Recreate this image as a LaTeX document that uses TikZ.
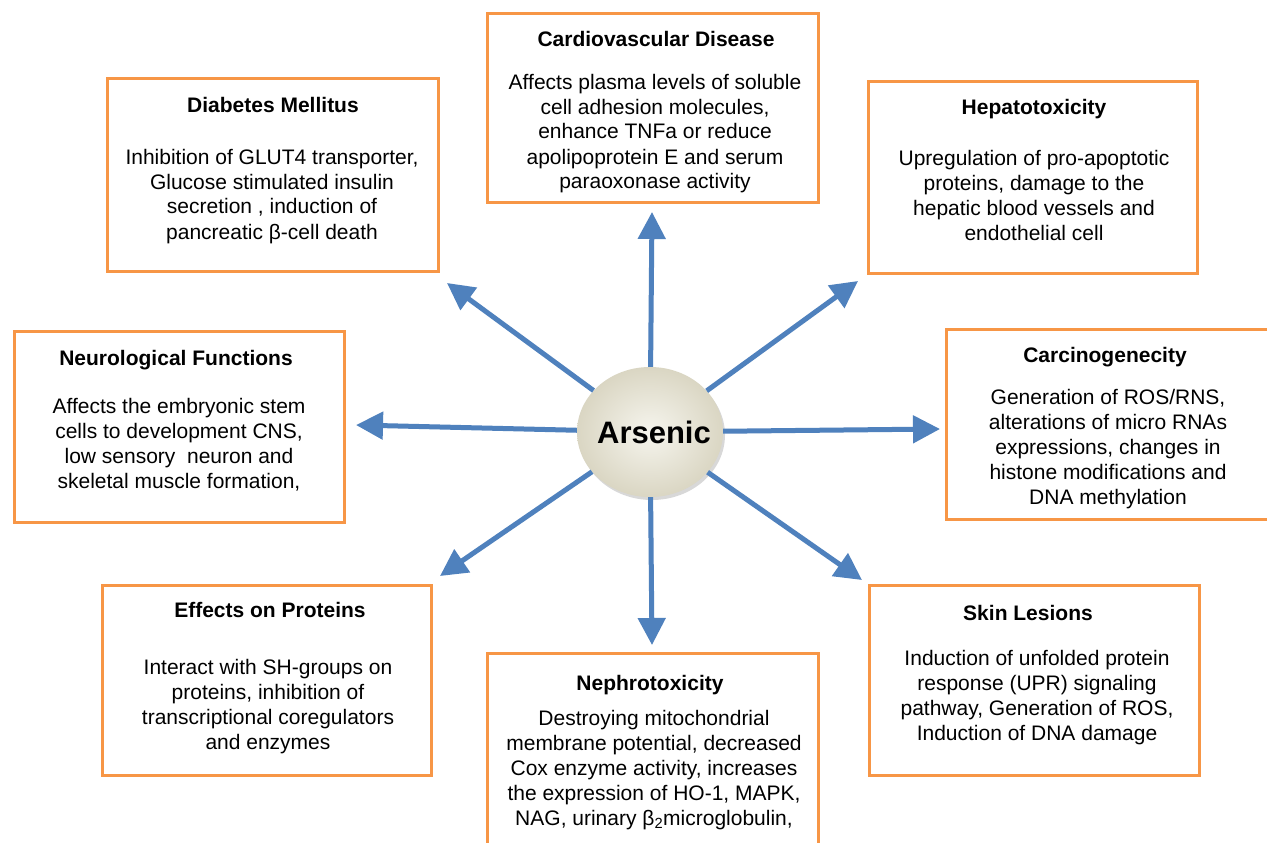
\documentclass[tikz,border=0pt]{standalone}
\usepackage{fontspec}
\setmainfont{Liberation Sans}
\usetikzlibrary{arrows.meta,shapes.geometric,shadows}
\definecolor{boxorange}{HTML}{F79646}
\definecolor{arrblue}{HTML}{4F81BD}
\definecolor{ellin}{HTML}{F6F5EE}
\definecolor{ellout}{HTML}{DAD6C3}
\newcommand\boxlines[1]{\begin{tabular}[t]{@{}c@{}}#1\end{tabular}}
\begin{document}
\begin{tikzpicture}[x=1pt,y=-1pt,
  box/.style={draw=boxorange, line width=3pt, rectangle, inner sep=0pt},
  ttl/.style={anchor=base, font=\fontsize{21}{25}\selectfont\bfseries, inner sep=0pt},
  bdy/.style={anchor=base, font=\fontsize{21}{25}\selectfont, inner sep=0pt},
  arr/.style={draw=arrblue, line width=5pt, -{Triangle[length=27pt,width=27pt]}}]
\useasboundingbox (0,0) rectangle (1267,843);
\fill[white] (0,0) rectangle (1267,843);

% boxes
\node[box, minimum width=331pt, minimum height=188pt] (cv) at (652.5,108) {};
\node[box, minimum width=331pt, minimum height=192pt] (dm) at (272.5,175) {};
\node[box, minimum width=329pt, minimum height=191pt] (hep) at (1032.5,177.5) {};
\node[box, minimum width=330pt, minimum height=191pt] (neu) at (179,426.5) {};
\node[box, minimum width=330pt, minimum height=190pt] (car) at (1111,424.5) {};
\node[box, minimum width=329pt, minimum height=190pt] (pro) at (266.5,680) {};
\node[box, minimum width=331pt, minimum height=200pt] (nep) at (652.5,753) {};
\node[box, minimum width=330pt, minimum height=190pt] (skin) at (1034.5,680) {};

% texts
\node[ttl] (cvT) at (656,46.5) {Cardiovascular Disease};
\node[bdy] (cvB) at (655,89) {\boxlines{Affects plasma levels of soluble\\cell adhesion molecules,\\enhance TNFa or reduce\\apolipoprotein E and serum\\paraoxonase activity}};

\node[ttl] (dmT) at (273,113) {Diabetes Mellitus};
\node[bdy] (dmB) at (272,164) {\boxlines{Inhibition of GLUT4 transporter,\\Glucose stimulated insulin\\secretion , induction of\\pancreatic β-cell death}};

\node[ttl] (hepT) at (1034,114.5) {Hepatotoxicity};
\node[bdy] (hepB) at (1034,165.3) {\boxlines{Upregulation of pro-apoptotic\\proteins, damage to the\\hepatic blood vessels and\\endothelial cell}};

\node[ttl] (neuT) at (176,365) {Neurological Functions};
\node[bdy] (neuB) at (179,413) {\boxlines{Affects the embryonic stem\\cells to development CNS,\\low sensory\ \ neuron and\\skeletal muscle formation,}};

\node[ttl] (carT) at (1105,362) {Carcinogenecity};
\node[bdy] (carB) at (1108,404) {\boxlines{Generation of ROS/RNS,\\alterations of micro RNAs\\expressions, changes in\\histone modifications and\\DNA methylation}};

\node[ttl] (proT) at (270,617) {Effects on Proteins};
\node[bdy] (proB) at (268,674) {\boxlines{Interact with SH-groups on\\proteins, inhibition of\\transcriptional coregulators\\and enzymes}};

\node[ttl] (nepT) at (650,690.7) {Nephrotoxicity};
\node[bdy] (nepB) at (654,725) {\boxlines{Destroying mitochondrial\\membrane potential, decreased\\Cox enzyme activity, increases\\the expression of HO-1, MAPK,\\NAG, urinary β\textsubscript{2}microglobulin,}};

\node[ttl] (skinT) at (1028,620) {Skin Lesions};
\node[bdy] (skinB) at (1037,665) {\boxlines{Induction of unfolded protein\\response (UPR) signaling\\pathway, Generation of ROS,\\Induction of DNA damage}};

% centre
\node[ellipse, minimum width=146pt, minimum height=130pt, inner sep=0pt,
      shading=radial, inner color=ellin, outer color=ellout,
      drop shadow={opacity=0.3, shadow xshift=2pt, shadow yshift=-3pt}] (ars) at (650,432) {};
\node[font=\fontsize{31}{31}\selectfont\bfseries, inner sep=0pt] (arsT) at (654,432) {Arsenic};

% arrow tips
\coordinate (tC) at (652,212);
\coordinate (tUL) at (447,283);
\coordinate (tUR) at (858,281);
\coordinate (tL) at (356,425);
\coordinate (tR) at (940,429);
\coordinate (tDL) at (440,576);
\coordinate (tD) at (652,645);
\coordinate (tDR) at (862,580);

\draw[arr] (ars) -- (tC);
\draw[arr] (ars) -- (tUL);
\draw[arr] (ars) -- (tUR);
\draw[arr] (ars) -- (tL);
\draw[arr] (ars) -- (tR);
\draw[arr] (ars) -- (tDL);
\draw[arr] (ars) -- (tD);
\draw[arr] (ars) -- (tDR);
\end{tikzpicture}
\end{document}
